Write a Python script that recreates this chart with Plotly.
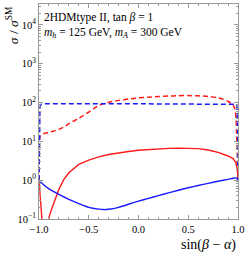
import plotly.graph_objects as go

# ---- data ----
red_dashed_x = [-1.0, -0.999, -0.997, -0.995, -0.99, -0.97, -0.95, -0.9, -0.85, -0.8, -0.75, -0.7,
                -0.65, -0.6, -0.55, -0.5, -0.45, -0.4, -0.35, -0.3, -0.2, -0.1, 0.0, 0.1, 0.2, 0.3,
                0.4, 0.5, 0.6, 0.7, 0.8, 0.85, 0.9, 0.93, 0.95, 0.97, 0.98, 0.985, 0.99, 0.995, 1.0]
red_dashed_y = [1.0, 3.0, 8.0, 11.0, 13.5, 15.0, 16.0, 17.0, 18.5, 20.5, 23.5, 28.5,
                33.5, 39.5, 47.0, 57.0, 70.0, 84.0, 94.0, 102.0, 114.0, 124.0, 132.0, 138.0, 143.0, 147.0,
                150.0, 152.0, 149.0, 144.0, 132.0, 122.0, 108.0, 96.0, 85.0, 68.0, 40.0, 20.0, 8.0, 3.0, 1.5]

blue_dashed_x = [-1.0, -0.999, -0.997, -0.995, -0.99, -0.98, -0.96, 0.0, 0.96, 0.98, 0.99, 0.995, 0.998, 1.0]
blue_dashed_y = [1.0, 5.0, 20.0, 50.0, 80.0, 90.0, 93.0, 93.0, 93.0, 90.0, 80.0, 40.0, 10.0, 1.0]

red_solid_x = [-1.0, -0.99, -0.98, -0.97, -0.96, -0.95, -0.94, -0.935, -0.93, -0.92, -0.91, -0.9,
               -0.88, -0.86, -0.84, -0.82, -0.8, -0.78, -0.75, -0.7, -0.65, -0.6, -0.5, -0.4, -0.3,
               -0.2, -0.1, 0.0, 0.1, 0.2, 0.3, 0.4, 0.5, 0.6, 0.7, 0.8, 0.9, 0.95, 0.98, 0.99, 0.995, 1.0]
red_solid_y = [1.0, 0.55, 0.28, 0.13, 0.055, 0.02, 0.003, 0.0005, 0.003, 0.02, 0.06, 0.11,
               0.16, 0.23, 0.3, 0.42, 0.58, 0.76, 1.05, 1.55, 2.05, 2.55, 3.3, 4.0, 4.6,
               5.1, 5.5, 5.9, 6.2, 6.45, 6.6, 6.7, 6.7, 6.5, 6.0, 5.2, 4.2, 3.6, 2.8, 2.2, 1.7, 1.0]

blue_solid_x = [-1.0, -0.95, -0.9, -0.8, -0.7, -0.6, -0.5, -0.4, -0.35, -0.3, -0.2, -0.1, 0.0,
                0.1, 0.2, 0.3, 0.4, 0.5, 0.6, 0.7, 0.8, 0.9, 0.95, 0.98, 0.99, 1.0]
blue_solid_y = [1.0, 0.75, 0.6, 0.43, 0.32, 0.25, 0.2, 0.18, 0.175, 0.178, 0.2, 0.24, 0.29,
                0.34, 0.4, 0.47, 0.55, 0.64, 0.73, 0.83, 0.94, 1.05, 1.12, 1.15, 1.12, 1.0]

x_tick_vals = [-1.0, -0.5, 0.0, 0.5, 1.0]
x_tick_text = ["\u22121.0", "\u22120.5", "0.0", "0.5", "1.0"]
y_tick_vals = [0.1, 1, 10, 100, 1000, 10000]
y_tick_text = ["10<sup>\u22121</sup>", "10<sup>0</sup>", "10<sup>1</sup>", "10<sup>2</sup>",
               "10<sup>3</sup>", "10<sup>4</sup>"]

FONT = "Liberation Serif"
AXC = "#999999"

y_minor = [m * 10 ** e for e in range(-1, 5) for m in range(2, 10)]
x_minor = [i / 10 for i in range(-10, 11)]

fig = go.Figure()
fig.add_trace(go.Scatter(x=red_dashed_x, y=red_dashed_y, mode="lines",
                         line=dict(color="#ff1a1a", width=1.5, dash="5px,3px", shape="spline", smoothing=0.3)))
fig.add_trace(go.Scatter(x=blue_dashed_x, y=blue_dashed_y, mode="lines",
                         line=dict(color="#1a1aff", width=1.5, dash="5px,3px")))
fig.add_trace(go.Scatter(x=red_solid_x, y=red_solid_y, mode="lines",
                         line=dict(color="#ff1a1a", width=1.4)))
fig.add_trace(go.Scatter(x=blue_solid_x, y=blue_solid_y, mode="lines",
                         line=dict(color="#1a1aff", width=1.4, shape="spline", smoothing=0.3)))

fig.update_layout(
    width=249, height=254,
    margin=dict(l=39, r=11, t=4, b=35),
    paper_bgcolor="white", plot_bgcolor="white",
    showlegend=False,
    font=dict(family=FONT, size=10, color="black"),
    xaxis=dict(range=[-1, 1], showgrid=False, zeroline=False,
               showline=True, linecolor=AXC, linewidth=1, mirror="allticks",
               ticks="inside", ticklen=4, tickcolor=AXC,
               tickmode="array", tickvals=x_tick_vals, ticktext=x_tick_text,
               tickfont=dict(family=FONT, size=10.5),
               minor=dict(tickmode="array", tickvals=x_minor, ticks="inside", ticklen=2, tickcolor=AXC)),
    yaxis=dict(type="log", range=[-1, 4.54], showgrid=False, zeroline=False,
               showline=True, linecolor=AXC, linewidth=1, mirror="allticks",
               ticks="inside", ticklen=4, tickcolor=AXC,
               tickmode="array", tickvals=y_tick_vals, ticktext=y_tick_text,
               tickfont=dict(family=FONT, size=10.5),
               minor=dict(tickmode="array", tickvals=y_minor, ticks="inside", ticklen=2, tickcolor=AXC)),
)

fig.add_annotation(text="2HDMtype II, tan <i>\u03b2</i> = 1", xref="paper", yref="paper",
                   x=0.015, y=0.978, xanchor="left", yanchor="top", showarrow=False,
                   font=dict(family=FONT, size=11.5))
fig.add_annotation(text="<i>m<sub>h</sub></i> = 125 GeV, <i>m<sub>A</sub></i> = 300 GeV", xref="paper", yref="paper",
                   x=0.015, y=0.905, xanchor="left", yanchor="top", showarrow=False,
                   font=dict(family=FONT, size=11.5))
fig.add_annotation(text="sin(<i>\u03b2</i> \u2212 <i>\u03b1</i>)", xref="paper", yref="paper",
                   x=1.0, y=-0.075, xanchor="right", yanchor="top", showarrow=False,
                   font=dict(family=FONT, size=14))
fig.add_annotation(text="<i>\u03c3</i> / <i>\u03c3</i><sup>SM</sup>", xref="paper", yref="paper",
                   x=-0.135, y=1.0, xanchor="center", yanchor="top", textangle=-90, showarrow=False,
                   font=dict(family=FONT, size=13.5))

fig.write_html("out.html", config={"displayModeBar": False},
               post_script="document.body.style.margin='0px';document.body.style.overflow='hidden';")
